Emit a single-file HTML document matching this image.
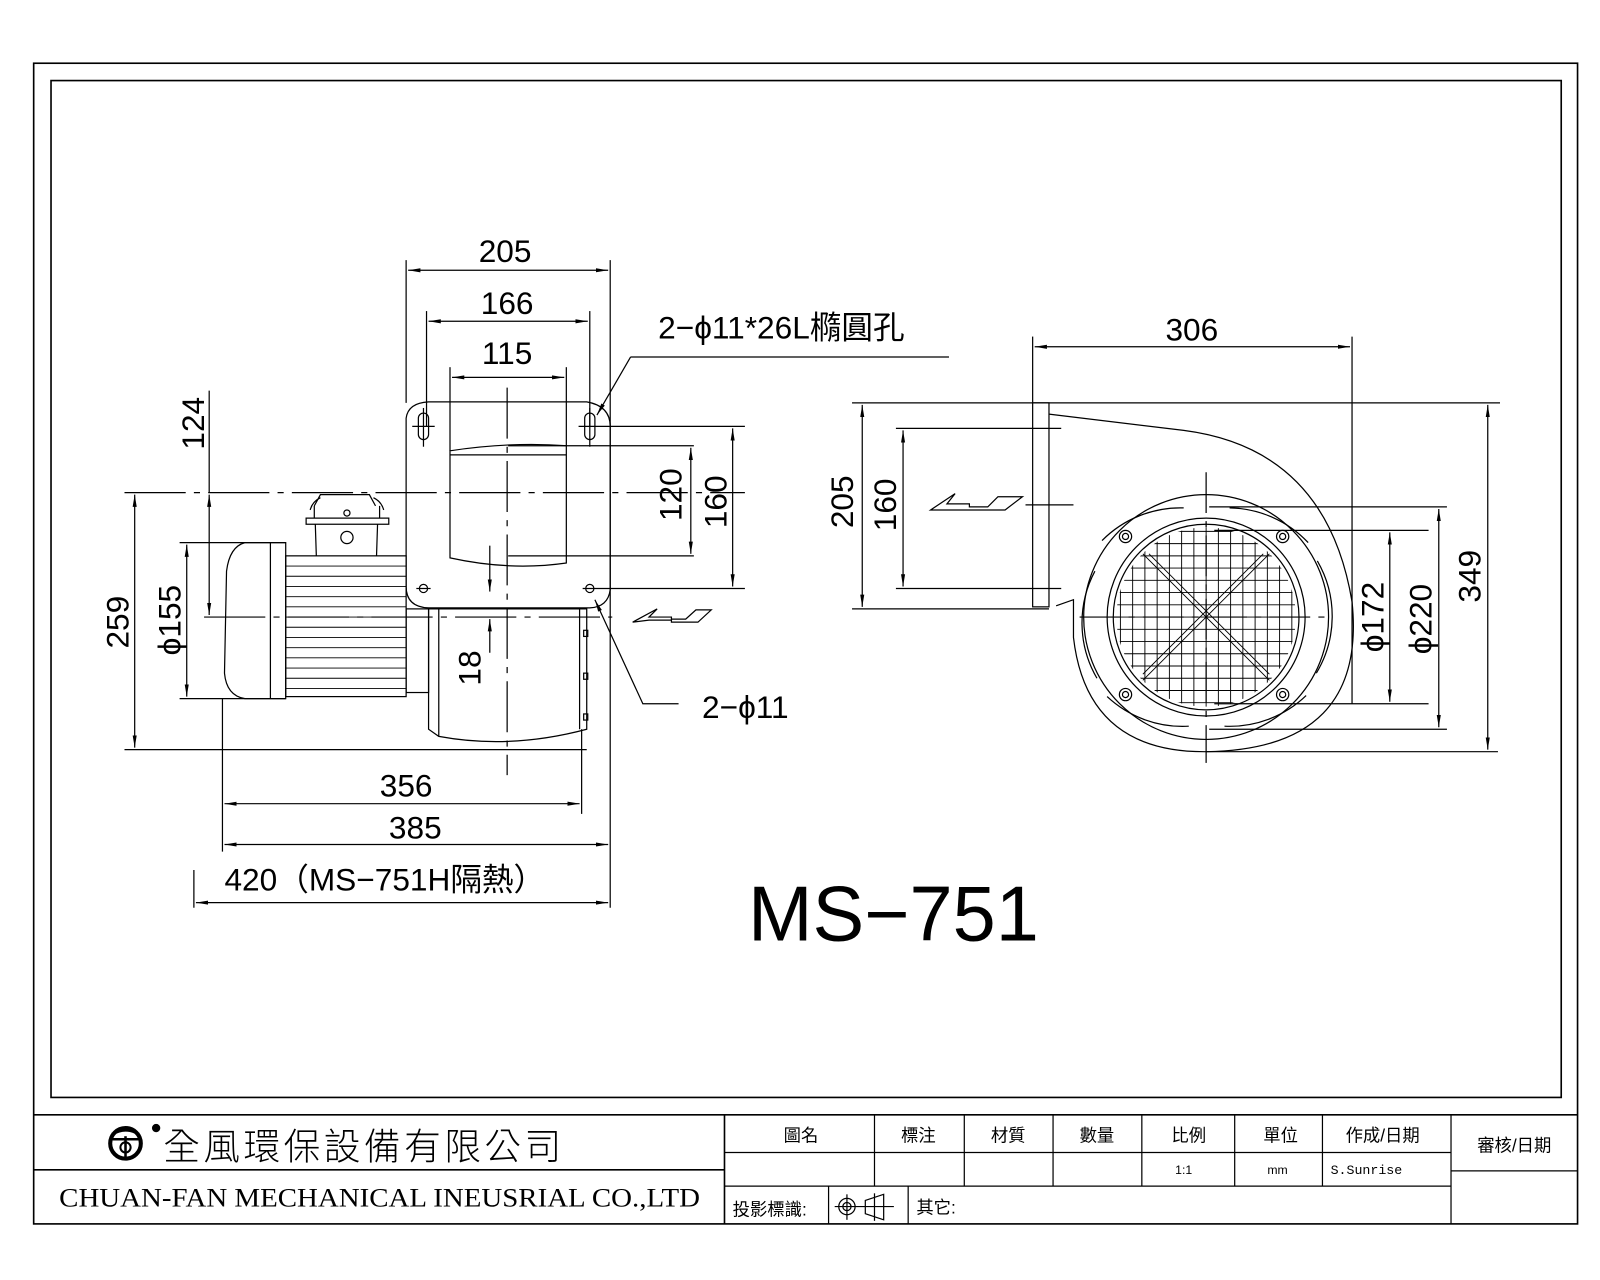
<!DOCTYPE html>
<html><head><meta charset="utf-8"><style>
html,body{margin:0;padding:0;background:#fff;}
svg{display:block;}
text{font-family:"Liberation Sans","Noto Sans CJK TC",sans-serif;fill:#000;}
.t{font-size:31px;}
.s{font-size:17px;}
</style></head><body>
<svg width="1600" height="1280" viewBox="0 0 1568 1255" preserveAspectRatio="none" xmlns="http://www.w3.org/2000/svg">
<defs>
<marker id="a" viewBox="0 0 12 6" refX="12" refY="3" markerWidth="12" markerHeight="6" orient="auto" markerUnits="userSpaceOnUse"><path d="M0,1 L12,3 L0,5 z" fill="#000"/></marker>
<marker id="b" viewBox="0 0 12 6" refX="0" refY="3" markerWidth="12" markerHeight="6" orient="auto" markerUnits="userSpaceOnUse"><path d="M12,1 L0,3 L12,5 z" fill="#000"/></marker>
<clipPath id="gc"><circle cx="1182" cy="605" r="88"/></clipPath>
</defs>
<g fill="none" stroke="#000" stroke-width="1.2">
<rect x="33" y="62" width="1513" height="1138" stroke-width="1.6"/>
<rect x="50" y="79" width="1480" height="997" stroke-width="1.6"/>
<line x1="33" y1="1093" x2="1546" y2="1093" stroke-width="1.6"/>
<line x1="33" y1="1147" x2="710" y2="1147" stroke-width="1.6"/>
<line x1="710" y1="1093" x2="710" y2="1200" stroke-width="1.6"/>
<line x1="710" y1="1130" x2="1422" y2="1130"/>
<line x1="710" y1="1163" x2="1422" y2="1163"/>
<line x1="857" y1="1093" x2="857" y2="1163"/>
<line x1="945" y1="1093" x2="945" y2="1163"/>
<line x1="1032" y1="1093" x2="1032" y2="1163"/>
<line x1="1119" y1="1093" x2="1119" y2="1163"/>
<line x1="1210" y1="1093" x2="1210" y2="1163"/>
<line x1="1296" y1="1093" x2="1296" y2="1163"/>
<line x1="1422" y1="1093" x2="1422" y2="1200"/>
<line x1="1422" y1="1148" x2="1546" y2="1148"/>
<line x1="812" y1="1163" x2="812" y2="1200"/>
<line x1="890" y1="1163" x2="890" y2="1200"/>
<circle cx="830" cy="1183" r="8"/><circle cx="830" cy="1183" r="4"/>
<line x1="818" y1="1183" x2="876" y2="1183"/><line x1="830" y1="1171" x2="830" y2="1196"/>
<path d="M848,1177 L866,1171 L866,1196 L848,1190 z"/><line x1="857" y1="1170" x2="857" y2="1197"/>
<circle cx="123" cy="1121" r="15" stroke-width="4"/><path d="M110,1112 Q123,1104 136,1112" stroke-width="3"/><line x1="109" y1="1117" x2="137" y2="1117" stroke-width="2.5"/><line x1="123" y1="1114" x2="123" y2="1135" stroke-width="2.5"/><circle cx="123" cy="1125" r="5" stroke-width="2"/>
<circle cx="153" cy="1106" r="3.5" fill="#000"/>

<path d="M398,410 Q400,395 420,394 L575,394 Q598,398 598,418 L598,578 Q596,595 578,596 L420,596 Q398,595 398,575 z"/>
<rect x="410" y="405" width="10" height="26" rx="5"/><rect x="573" y="405" width="10" height="26" rx="5"/>
<line x1="404" y1="418" x2="426" y2="418"/><line x1="415" y1="400" x2="415" y2="438"/>
<line x1="567" y1="418" x2="730" y2="418"/><line x1="578" y1="400" x2="578" y2="438"/>
<circle cx="415" cy="577" r="4"/><circle cx="578" cy="577" r="4"/>
<line x1="408" y1="577" x2="422" y2="577"/><line x1="571" y1="577" x2="730" y2="577"/>
<path d="M441,442 Q500,433 555,437 L555,552 Q500,560 441,547 z"/><line x1="441" y1="446" x2="555" y2="446"/>
<line x1="498" y1="437" x2="680" y2="437"/><line x1="498" y1="545" x2="680" y2="545"/>
<line x1="122" y1="483" x2="730" y2="483" stroke-dasharray="60,8,6,8"/>
<line x1="497" y1="380" x2="497" y2="760" stroke-dasharray="50,8,6,8"/>
<path d="M280,532 L240,532 Q225,536 222,560 L220,660 Q222,682 240,685 L280,685 z"/>
<line x1="265" y1="532" x2="265" y2="685"/>
<rect x="280" y="545" width="118" height="138"/>
<g stroke-width="0.9">
<line x1="280" y1="555" x2="398" y2="555"/><line x1="280" y1="565" x2="398" y2="565"/><line x1="280" y1="575" x2="398" y2="575"/><line x1="280" y1="585" x2="398" y2="585"/><line x1="280" y1="595" x2="398" y2="595"/><line x1="280" y1="605" x2="398" y2="605"/><line x1="280" y1="615" x2="398" y2="615"/><line x1="280" y1="625" x2="398" y2="625"/><line x1="280" y1="635" x2="398" y2="635"/><line x1="280" y1="645" x2="398" y2="645"/><line x1="280" y1="655" x2="398" y2="655"/><line x1="280" y1="665" x2="398" y2="665"/><line x1="280" y1="675" x2="398" y2="675"/>
</g>
<rect x="398" y="597" width="22" height="82"/>
<path d="M308,496 L314,485 L362,485 L368,496"/>
<rect x="300" y="508" width="81" height="6"/>
<path d="M308,496 L308,508 M372,496 L372,508 M304,500 Q306,492 314,488 M376,500 Q374,492 366,488"/>
<path d="M309,514 L310,545 M370,514 L369,545"/>
<circle cx="340" cy="503" r="3"/><circle cx="340" cy="527" r="6"/>
<path d="M420,597 L575,597 L575,715 Q500,735 430,722 L420,715 z"/>
<line x1="430" y1="597" x2="430" y2="722"/><line x1="568" y1="597" x2="568" y2="715"/>
<rect x="572" y="618" width="4" height="6"/><rect x="572" y="660" width="4" height="6"/><rect x="572" y="700" width="4" height="6"/>
<line x1="200" y1="605" x2="600" y2="605" stroke-dasharray="60,8,6,8"/>
<line x1="398" y1="255" x2="398" y2="395"/><line x1="598" y1="255" x2="598" y2="890"/>
<line x1="400" y1="265" x2="596" y2="265" marker-start="url(#b)" marker-end="url(#a)"/>
<line x1="418" y1="305" x2="418" y2="418"/><line x1="578" y1="305" x2="578" y2="418"/>
<line x1="420" y1="315" x2="576" y2="315" marker-start="url(#b)" marker-end="url(#a)"/>
<line x1="441" y1="360" x2="441" y2="442"/><line x1="555" y1="360" x2="555" y2="437"/>
<line x1="443" y1="370" x2="553" y2="370" marker-start="url(#b)" marker-end="url(#a)"/>
<line x1="677" y1="439" x2="677" y2="543" marker-start="url(#b)" marker-end="url(#a)"/>
<line x1="718" y1="420" x2="718" y2="575" marker-start="url(#b)" marker-end="url(#a)"/>
<line x1="205" y1="383" x2="205" y2="483"/>
<line x1="205" y1="485" x2="205" y2="603" marker-start="url(#b)" marker-end="url(#a)"/>
<line x1="122" y1="735" x2="575" y2="735"/>
<line x1="132" y1="485" x2="132" y2="733" marker-start="url(#b)" marker-end="url(#a)"/>
<line x1="176" y1="532" x2="280" y2="532"/><line x1="176" y1="685" x2="280" y2="685"/>
<line x1="183" y1="534" x2="183" y2="683" marker-start="url(#b)" marker-end="url(#a)"/>
<line x1="480" y1="535" x2="480" y2="580" marker-end="url(#a)"/><line x1="480" y1="640" x2="480" y2="607" marker-end="url(#a)"/>
<line x1="218" y1="685" x2="218" y2="835"/><line x1="570" y1="715" x2="570" y2="798"/>
<line x1="190" y1="853" x2="190" y2="890"/>
<line x1="220" y1="788" x2="568" y2="788" marker-start="url(#b)" marker-end="url(#a)"/>
<line x1="220" y1="828" x2="596" y2="828" marker-start="url(#b)" marker-end="url(#a)"/>
<line x1="192" y1="885" x2="596" y2="885" marker-start="url(#b)" marker-end="url(#a)"/>
<line x1="618" y1="350" x2="930" y2="350"/>
<line x1="618" y1="350" x2="585" y2="407" marker-end="url(#a)"/>
<polyline points="665,690 630,690 583,588" marker-end="url(#a)"/>
<polygon points="620,610 644,597 636,605 658,605 658,607 672,607 682,598 697,598 684,610 658,610 658,608 636,608"/>

<rect x="1012" y="395" width="16" height="200"/>
<path d="M1028,406 L1160,422 Q1300,440 1325,590 Q1340,735 1182,737 Q1065,738 1052,625 L1052,588 L1035,594"/>
<line x1="1012" y1="330" x2="1012" y2="395"/><line x1="1325" y1="330" x2="1325" y2="690"/>
<line x1="1014" y1="340" x2="1323" y2="340" marker-start="url(#b)" marker-end="url(#a)"/>
<line x1="835" y1="395" x2="1470" y2="395"/><line x1="835" y1="597" x2="1028" y2="597"/>
<line x1="845" y1="397" x2="845" y2="595" marker-start="url(#b)" marker-end="url(#a)"/>
<line x1="878" y1="420" x2="1040" y2="420"/><line x1="878" y1="577" x2="1040" y2="577"/>
<line x1="885" y1="422" x2="885" y2="575" marker-start="url(#b)" marker-end="url(#a)"/>
<line x1="1005" y1="495" x2="1052" y2="495"/>
<polygon points="912,500 936,484 928,494 950,494 950,497 968,497 978,487 1002,487 985,500"/>
<circle cx="1182" cy="605" r="120"/>
<path d="M1080,530 A108,108 0 0 1 1160,498 M1205,498 A108,108 0 0 1 1282,532 M1291,550 A108,108 0 0 1 1290,660 M1280,682 A108,108 0 0 1 1200,712 M1165,712 A108,108 0 0 1 1085,683 M1075,665 A108,108 0 0 1 1073,560"/>
<circle cx="1182" cy="605" r="97"/>
<circle cx="1182" cy="605" r="91"/>
<g stroke-width="0.9" clip-path="url(#gc)">
<path d="M1094,521H1270M1094,533H1270M1094,545H1270M1094,557H1270M1094,569H1270M1094,581H1270M1094,593H1270M1094,605H1270M1094,617H1270M1094,629H1270M1094,641H1270M1094,653H1270M1094,665H1270M1094,677H1270M1094,689H1270"/>
<path d="M1098,517V693M1110,517V693M1122,517V693M1134,517V693M1146,517V693M1158,517V693M1170,517V693M1182,517V693M1194,517V693M1206,517V693M1218,517V693M1230,517V693M1242,517V693M1254,517V693M1266,517V693"/>
<path d="M1120,543L1244,667M1244,543L1120,667M1126,543L1244,661M1238,543L1120,661"/>
</g>
<circle cx="1103" cy="526" r="6"/><circle cx="1103" cy="526" r="3"/>
<circle cx="1257" cy="526" r="6"/><circle cx="1257" cy="526" r="3"/>
<circle cx="1103" cy="681" r="6"/><circle cx="1103" cy="681" r="3"/>
<circle cx="1257" cy="681" r="6"/><circle cx="1257" cy="681" r="3"/>
<line x1="1182" y1="463" x2="1182" y2="748" stroke-dasharray="40,8,6,8"/>
<line x1="1058" y1="605" x2="1300" y2="605" stroke-dasharray="40,8,6,8"/>
<line x1="1190" y1="520" x2="1400" y2="520"/><line x1="1190" y1="690" x2="1400" y2="690"/>
<line x1="1362" y1="522" x2="1362" y2="688" marker-start="url(#b)" marker-end="url(#a)"/>
<line x1="1185" y1="497" x2="1418" y2="497"/><line x1="1185" y1="715" x2="1418" y2="715"/>
<line x1="1410" y1="499" x2="1410" y2="713" marker-start="url(#b)" marker-end="url(#a)"/>
<line x1="1182" y1="737" x2="1468" y2="737"/>
<line x1="1458" y1="397" x2="1458" y2="735" marker-start="url(#b)" marker-end="url(#a)"/>
</g>

<text class="t" x="495" y="257" text-anchor="middle">205</text>
<text class="t" x="497" y="308" text-anchor="middle">166</text>
<text class="t" x="497" y="357" text-anchor="middle">115</text>
<text class="t" x="645" y="332">2−ϕ11*26L橢圓孔</text>
<text class="t" x="688" y="704">2−ϕ11</text>
<text class="t" transform="translate(200,415) rotate(-90)" text-anchor="middle">124</text>
<text class="t" transform="translate(126,610) rotate(-90)" text-anchor="middle">259</text>
<text class="t" transform="translate(177,608) rotate(-90)" text-anchor="middle">ϕ155</text>
<text class="t" transform="translate(471,655) rotate(-90)" text-anchor="middle">18</text>
<text class="t" transform="translate(668,485) rotate(-90)" text-anchor="middle">120</text>
<text class="t" transform="translate(712,492) rotate(-90)" text-anchor="middle">160</text>
<text class="t" x="398" y="781" text-anchor="middle">356</text>
<text class="t" x="407" y="822" text-anchor="middle">385</text>
<text class="t" x="220" y="873">420（MS−751H隔熱）</text>
<text class="t" x="1168" y="334" text-anchor="middle">306</text>
<text class="t" transform="translate(836,492) rotate(-90)" text-anchor="middle">205</text>
<text class="t" transform="translate(878,495) rotate(-90)" text-anchor="middle">160</text>
<text class="t" transform="translate(1356,605) rotate(-90)" text-anchor="middle">ϕ172</text>
<text class="t" transform="translate(1403,607) rotate(-90)" text-anchor="middle">ϕ220</text>
<text class="t" transform="translate(1451,565) rotate(-90)" text-anchor="middle">349</text>
<text x="733" y="922" style="font-size:76px">MS−751</text>
<text x="160" y="1137" style="font-size:36px;font-family:'Noto Sans CJK TC',sans-serif;font-weight:300" textLength="390" lengthAdjust="spacing">全風環保設備有限公司</text>
<text x="58" y="1183" style="font-size:26px;font-family:'Liberation Serif',serif" textLength="628" lengthAdjust="spacingAndGlyphs">CHUAN-FAN MECHANICAL INEUSRIAL CO.,LTD</text>
<text class="s" x="785" y="1119" text-anchor="middle">圖名</text>
<text class="s" x="900" y="1119" text-anchor="middle">標注</text>
<text class="s" x="988" y="1119" text-anchor="middle">材質</text>
<text class="s" x="1075" y="1119" text-anchor="middle">數量</text>
<text class="s" x="1165" y="1119" text-anchor="middle">比例</text>
<text class="s" x="1255" y="1119" text-anchor="middle">單位</text>
<text class="s" x="1355" y="1119" text-anchor="middle">作成/日期</text>
<text class="s" x="1484" y="1129" text-anchor="middle">審核/日期</text>
<text x="1160" y="1151" text-anchor="middle" style="font-size:12px">1:1</text>
<text x="1252" y="1151" text-anchor="middle" style="font-size:12px">mm</text>
<text x="1304" y="1151" style="font-size:13px;font-family:'Liberation Mono',monospace">S.Sunrise</text>
<text class="s" x="718" y="1192">投影標識:</text>
<text class="s" x="898" y="1190">其它:</text>
</svg>
</body></html>
